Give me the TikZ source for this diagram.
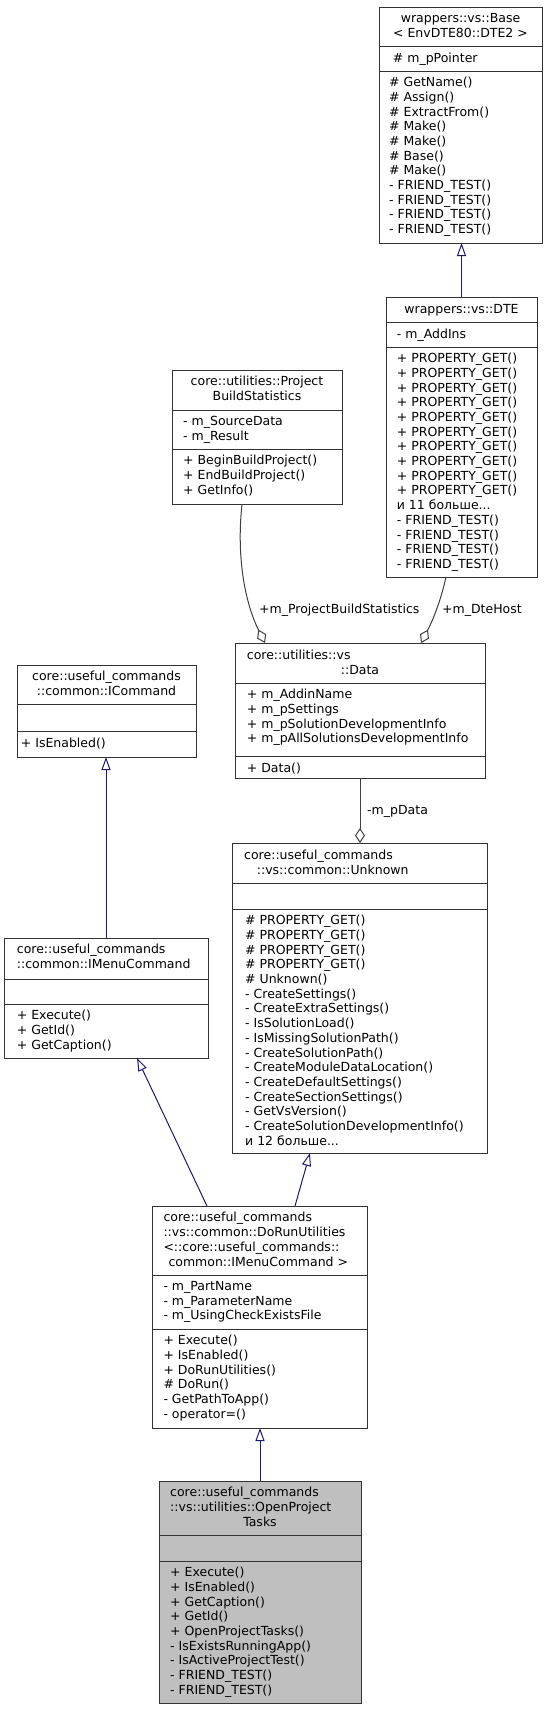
\documentclass[tikz,border=0pt]{standalone}
\usepackage{fontspec}
\setmainfont{DejaVu Sans}
\usetikzlibrary{arrows.meta}
\definecolor{navy}{HTML}{191970}
\definecolor{greyedge}{HTML}{404040}
\definecolor{hilite}{HTML}{BFBFBF}
\newcommand\umlfont{\fontsize{12.5}{14.7}\selectfont}
\tikzset{
  umlbox/.style={draw=black!80, line width=1pt, fill=white, inner sep=0pt, outer sep=0pt, rectangle},
  sepline/.style={draw=black!80, line width=1pt},
  txt/.style={anchor=north west, inner sep=0pt, align=left, font=\umlfont, execute at begin node=\strut},
  ctxt/.style={anchor=north, inner sep=0pt, align=center, font=\umlfont, execute at begin node=\strut},
  inherit/.style={draw=navy, line width=1pt, -{Triangle[open, length=13pt, width=9pt]}},
  usage/.style={draw=greyedge, line width=1pt, -{Diamond[open, length=15pt, width=10pt]}},
  lbl/.style={anchor=base west, inner sep=0pt, font=\umlfont}
}
\begin{document}
\begin{tikzpicture}[x=1pt, y=-1pt]
\useasboundingbox (0,0) rectangle (548,1709);
\fill[white] (0,0) rectangle (548,1709);

% ---------- boxes ----------
\node[umlbox, minimum width=163pt, minimum height=236pt] (base) at (460.5,125) {};
\node[umlbox, minimum width=151pt, minimum height=280pt] (dte) at (461.5,437) {};
\node[umlbox, minimum width=170pt, minimum height=134pt] (pbs) at (257,437) {};
\node[umlbox, minimum width=250pt, minimum height=135pt] (data) at (360,710.5) {};
\node[umlbox, minimum width=179pt, minimum height=92pt] (icmd) at (106.5,711) {};
\node[umlbox, minimum width=255pt, minimum height=310pt] (unk) at (359.5,998) {};
\node[umlbox, minimum width=204pt, minimum height=120pt] (imenu) at (106,998) {};
\node[umlbox, minimum width=215pt, minimum height=222pt] (dorun) at (259.5,1317) {};
\node[umlbox, fill=hilite, minimum width=202pt, minimum height=222pt] (opt) at (260,1592) {};

% ---------- separators ----------
\draw[sepline] (base.west |- 0,46) -- (base.east |- 0,46);
\draw[sepline] (base.west |- 0,71) -- (base.east |- 0,71);
\draw[sepline] (dte.west |- 0,322) -- (dte.east |- 0,322);
\draw[sepline] (dte.west |- 0,347) -- (dte.east |- 0,347);
\draw[sepline] (pbs.west |- 0,410) -- (pbs.east |- 0,410);
\draw[sepline] (pbs.west |- 0,449) -- (pbs.east |- 0,449);
\draw[sepline] (data.west |- 0,683) -- (data.east |- 0,683);
\draw[sepline] (data.west |- 0,756) -- (data.east |- 0,756);
\draw[sepline] (icmd.west |- 0,704) -- (icmd.east |- 0,704);
\draw[sepline] (icmd.west |- 0,731) -- (icmd.east |- 0,731);
\draw[sepline] (unk.west |- 0,883) -- (unk.east |- 0,883);
\draw[sepline] (unk.west |- 0,909) -- (unk.east |- 0,909);
\draw[sepline] (imenu.west |- 0,979) -- (imenu.east |- 0,979);
\draw[sepline] (imenu.west |- 0,1004) -- (imenu.east |- 0,1004);
\draw[sepline] (dorun.west |- 0,1275) -- (dorun.east |- 0,1275);
\draw[sepline] (dorun.west |- 0,1329) -- (dorun.east |- 0,1329);
\draw[sepline] (opt.west |- 0,1535) -- (opt.east |- 0,1535);
\draw[sepline] (opt.west |- 0,1561) -- (opt.east |- 0,1561);

% ---------- texts ----------
% Base
\node[ctxt] (base-t) at (460.5,13) {wrappers::vs::Base\\< EnvDTE80::DTE2 >};
\node[txt] (base-a) at (392.7,52) {\# m\_pPointer};
\node[txt] (base-m) at (389,77) {\# GetName()\\\# Assign()\\\# ExtractFrom()\\\# Make()\\\# Make()\\\# Base()\\\# Make()\\- FRIEND\_TEST()\\- FRIEND\_TEST()\\- FRIEND\_TEST()\\- FRIEND\_TEST()};
% DTE
\node[ctxt] (dte-t) at (461.5,303) {wrappers::vs::DTE};
\node[txt] (dte-a) at (396.7,328) {- m\_AddIns};
\node[txt] (dte-m) at (396.7,353) {+ PROPERTY\_GET()\\+ PROPERTY\_GET()\\+ PROPERTY\_GET()\\+ PROPERTY\_GET()\\+ PROPERTY\_GET()\\+ PROPERTY\_GET()\\+ PROPERTY\_GET()\\+ PROPERTY\_GET()\\+ PROPERTY\_GET()\\+ PROPERTY\_GET()\\и 11 больше...\\- FRIEND\_TEST()\\- FRIEND\_TEST()\\- FRIEND\_TEST()\\- FRIEND\_TEST()};
% ProjectBuildStatistics
\node[ctxt] (pbs-t) at (257,376) {core::utilities::Project\\BuildStatistics};
\node[txt] (pbs-a) at (183,416) {- m\_SourceData\\- m\_Result};
\node[txt] (pbs-m) at (183,455) {+ BeginBuildProject()\\+ EndBuildProject()\\+ GetInfo()};
% Data
\node[txt] (data-t1) at (246.7,649) {core::utilities::vs};
\node[ctxt] (data-t2) at (360,663.7) {::Data};
\node[txt] (data-a) at (246.7,689) {+ m\_AddinName\\+ m\_pSettings\\+ m\_pSolutionDevelopmentInfo\\+ m\_pAllSolutionsDevelopmentInfo};
\node[txt] (data-m) at (246.7,762) {+ Data()};
% ICommand
\node[ctxt] (icmd-t) at (106.5,671) {core::useful\_commands\\::common::ICommand};
\node[txt] (icmd-m) at (20.7,737) {+ IsEnabled()};
% Unknown
\node[txt] (unk-t1) at (244,849) {core::useful\_commands};
\node[txt] (unk-t2) at (256.7,863.7) {::vs::common::Unknown};
\node[txt] (unk-m) at (245,915) {\# PROPERTY\_GET()\\\# PROPERTY\_GET()\\\# PROPERTY\_GET()\\\# PROPERTY\_GET()\\\# Unknown()\\- CreateSettings()\\- CreateExtraSettings()\\- IsSolutionLoad()\\- IsMissingSolutionPath()\\- CreateSolutionPath()\\- CreateModuleDataLocation()\\- CreateDefaultSettings()\\- CreateSectionSettings()\\- GetVsVersion()\\- CreateSolutionDevelopmentInfo()\\и 12 больше...};
% IMenuCommand
\node[txt] (imenu-t) at (16.7,944) {core::useful\_commands\\::common::IMenuCommand};
\node[txt] (imenu-m) at (16.7,1010) {+ Execute()\\+ GetId()\\+ GetCaption()};
% DoRunUtilities
\node[txt] (dorun-t1) at (163.3,1212) {core::useful\_commands\\::vs::common::DoRunUtilities\\<::core::useful\_commands::};
\node[txt] (dorun-t2) at (168.3,1256.1) {common::IMenuCommand >};
\node[txt] (dorun-a) at (163.3,1281) {- m\_PartName\\- m\_ParameterName\\- m\_UsingCheckExistsFile};
\node[txt] (dorun-m) at (163.3,1335) {+ Execute()\\+ IsEnabled()\\+ DoRunUtilities()\\\# DoRun()\\- GetPathToApp()\\- operator=()};
% OpenProjectTasks
\node[txt] (opt-t1) at (170,1487) {core::useful\_commands\\::vs::utilities::OpenProject};
\node[ctxt] (opt-t2) at (260,1516.4) {Tasks};
\node[txt] (opt-m) at (170,1567) {+ Execute()\\+ IsEnabled()\\+ GetCaption()\\+ GetId()\\+ OpenProjectTasks()\\- IsExistsRunningApp()\\- IsActiveProjectTest()\\- FRIEND\_TEST()\\- FRIEND\_TEST()};

% ---------- connectors ----------
\draw[inherit] (dte.north) -- (dte.north |- base.south);
\draw[inherit] (imenu.north) -- (imenu.north |- icmd.south);
\draw[inherit] ([xshift=-52.5pt]dorun.north) -- ([xshift=31pt]imenu.south);
\draw[inherit] ([xshift=35.5pt]dorun.north) -- ([xshift=-49.5pt]unk.south);
\draw[inherit] (opt.north) -- (opt.north |- dorun.south);

\draw[usage] ([xshift=-15pt]pbs.south) .. controls (236,560) and (246,605) .. ([xshift=-95pt]data.north);
\draw[usage] ([xshift=-15.5pt]dte.south) .. controls (441,600) and (433,620) .. ([xshift=61pt]data.north);
\draw[usage] (data.south) -- (data.south |- unk.north);

\node[lbl] (lbl-pbs) at (259,613.5) {+m\_ProjectBuildStatistics};
\node[lbl] (lbl-dte) at (442,613.5) {+m\_DteHost};
\node[lbl] (lbl-data) at (367,814.5) {-m\_pData};
\end{tikzpicture}
\end{document}
